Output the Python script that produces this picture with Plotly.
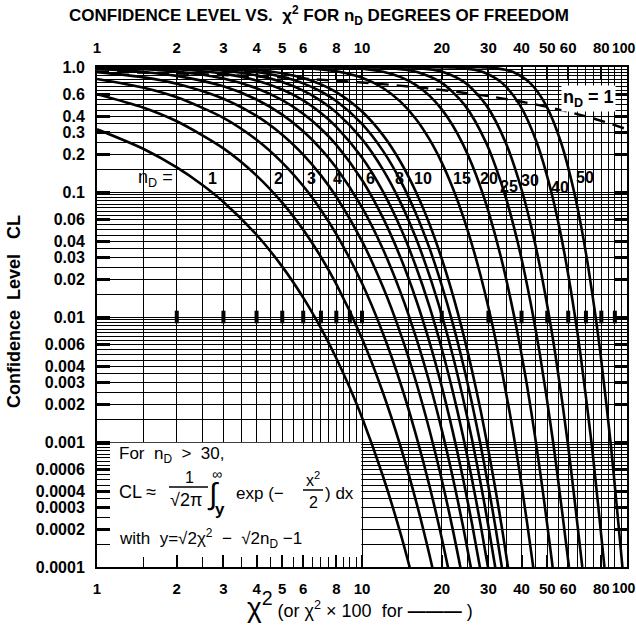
import math
import plotly.graph_objects as go

# ---------------- data ----------------
chi2_n1 = [1, 1.5, 2, 2.5, 3, 4, 5, 6, 7, 8, 9, 10, 12, 14, 16]
cl_n1 = [0.3173, 0.2207, 0.1573, 0.1138, 0.0833, 0.0455, 0.0253, 0.0143, 0.00815,
         0.00468, 0.0027, 0.00157, 0.000532, 0.000183, 0.0000633]

chi2_even = [1, 1.5, 2, 3, 4, 5, 6, 7, 8, 10, 12, 14, 16, 18, 20, 22, 24, 26, 28, 30, 32, 34, 36]
cl_n2 = [0.6065, 0.4724, 0.3679, 0.2231, 0.1353, 0.0821, 0.0498, 0.0302, 0.0183, 0.00674,
         0.00248, 0.000912, 0.000335, 0.000123, 0.0000454]
cl_n3 = [0.8013, 0.6823, 0.5724, 0.3916, 0.2615, 0.1718, 0.1116, 0.0719, 0.0460, 0.0186,
         0.00738, 0.00291, 0.00113, 0.00044, 0.00017, 0.0000652]
cl_n4 = [0.9098, 0.8266, 0.7358, 0.5578, 0.4060, 0.2873, 0.1991, 0.1359, 0.0916, 0.0404,
         0.01735, 0.0073, 0.00302, 0.00123, 0.000499, 0.0002, 0.0000798]
cl_n5 = [0.9626, 0.9131, 0.8491, 0.7000, 0.5494, 0.4159, 0.3062, 0.2206, 0.1562, 0.0752,
         0.0348, 0.0156, 0.00684, 0.00295, 0.00125, 0.000523, 0.000217, 0.000089]
cl_n6 = [0.9856, 0.9595, 0.9197, 0.8088, 0.6767, 0.5438, 0.4232, 0.3208, 0.2381, 0.1247,
         0.0620, 0.0296, 0.01375, 0.00623, 0.00277, 0.00121, 0.000522, 0.000223, 0.000094]
cl_n7 = [0.9949, 0.9823, 0.9598, 0.8850, 0.7797, 0.6600, 0.5398, 0.4287, 0.3324, 0.1886,
         0.1006, 0.0512, 0.0251, 0.0120, 0.00557, 0.00254, 0.00114, 0.000503, 0.00022, 0.000095]
cl_n8 = [0.9982, 0.9927, 0.9810, 0.9343, 0.8571, 0.7576, 0.6472, 0.5366, 0.4335, 0.2650,
         0.1512, 0.0818, 0.0424, 0.0212, 0.01034, 0.00492, 0.00229, 0.00105, 0.000475,
         0.000211, 0.000093]
cl_n9 = [0.9995, 0.9971, 0.9914, 0.9643, 0.9113, 0.8344, 0.7400, 0.6368, 0.5338, 0.3505,
         0.2133, 0.1223, 0.0668, 0.0352, 0.0179, 0.00888, 0.00430, 0.00204, 0.000954,
         0.000439, 0.000199, 0.000089]
cl_n10 = [0.9998, 0.9990, 0.9963, 0.9814, 0.9473, 0.8912, 0.8153, 0.7254, 0.6288, 0.4405,
          0.2851, 0.1730, 0.0996, 0.0550, 0.02925, 0.0151, 0.0076, 0.00374, 0.00181,
          0.000857, 0.000400, 0.000185, 0.0000842]

chi2_n15 = [1, 3, 4, 5, 6, 7, 8, 10, 12, 14, 16, 18, 20, 22, 24, 26, 28, 30, 32, 36, 40, 44, 46]
cl_n15 = [1.0, 0.9998, 0.9975, 0.9924, 0.9797, 0.9577, 0.9239, 0.8197, 0.6791, 0.5256,
          0.3820, 0.2622, 0.1719, 0.1078, 0.0651, 0.0380, 0.02157, 0.01192, 0.00644,
          0.001768, 0.000454, 0.00011, 0.000053]

chi2_n20 = [1, 4, 6, 8, 10, 12, 14, 16, 18, 20, 22, 24, 26, 28, 30, 34, 38, 40, 42, 45, 48, 52, 55]
cl_n20 = [1.0, 0.99995, 0.9989, 0.99187, 0.96817, 0.91608, 0.83050, 0.71662, 0.58741,
          0.45793, 0.34051, 0.24239, 0.16581, 0.10940, 0.06985, 0.02612, 0.00886, 0.00500,
          0.00279, 0.00110, 0.00042, 0.000114, 0.000042]

cl_quant = [1.0, 0.99996, 0.999, 0.995, 0.99, 0.975, 0.95, 0.90, 0.75, 0.50, 0.25, 0.10,
            0.05, 0.025, 0.01, 0.005, 0.001, 0.0001]
chi2_n25 = [1, 6, 8.65, 10.52, 11.52, 13.12, 14.61, 16.47, 19.94, 24.34, 29.34, 34.38,
            37.65, 40.65, 44.31, 46.93, 52.62, 60.4]
chi2_n30 = [1, 8, 11.51, 13.79, 14.95, 16.79, 18.49, 20.60, 24.48, 29.34, 34.80, 40.26,
            43.77, 46.98, 50.89, 53.67, 59.70, 67.8]
chi2_n40 = [1, 12, 17.92, 20.71, 22.16, 24.43, 26.51, 29.05, 33.66, 39.34, 45.62, 51.81,
            55.76, 59.34, 63.69, 66.77, 73.40, 82.2]
chi2_n50 = [1, 17, 24.67, 27.99, 29.71, 32.36, 34.76, 37.69, 42.94, 49.33, 56.33, 63.17,
            67.50, 71.42, 76.15, 79.49, 86.66, 96.1]

# dashed curve: n_D = 1, abscissa is chi^2 x 100
chi2x100_n1 = [1, 2, 3, 5, 7, 10, 15, 20, 30, 40, 50, 60, 70, 80, 100]
cl_n1_dashed = [0.9203, 0.8875, 0.8625, 0.8231, 0.7913, 0.7518, 0.6985, 0.6547, 0.5839,
                0.5271, 0.4795, 0.4386, 0.4028, 0.3711, 0.3173]

x_ticks = [1, 2, 3, 4, 5, 6, 8, 10, 20, 30, 40, 50, 60, 80, 100]
x_ticktext = ["1", "2", "3", "4", "5", "6", "8", "10", "20", "30", "40", "50", "60", "80", "100"]
y_ticks = [1.0, 0.6, 0.4, 0.3, 0.2, 0.1, 0.06, 0.04, 0.03, 0.02, 0.01, 0.006, 0.004, 0.003,
           0.002, 0.001, 0.0006, 0.0004, 0.0003, 0.0002, 0.0001]
y_ticktext = ["1.0", "0.6", "0.4", "0.3", "0.2", "0.1", "0.06", "0.04", "0.03", "0.02",
              "0.01", "0.006", "0.004", "0.003", "0.002", "0.001", "0.0006", "0.0004",
              "0.0003", "0.0002", "0.0001"]
mark_x = [2, 3, 4, 5, 6, 7, 8, 9, 10, 20, 30, 40, 50, 60, 70, 80, 90]

curves = [
    ("1", chi2_n1, cl_n1), ("2", chi2_even, cl_n2), ("3", chi2_even, cl_n3),
    ("4", chi2_even, cl_n4), ("5", chi2_even, cl_n5), ("6", chi2_even, cl_n6),
    ("7", chi2_even, cl_n7), ("8", chi2_even, cl_n8), ("9", chi2_even, cl_n9),
    ("10", chi2_even, cl_n10), ("15", chi2_n15, cl_n15), ("20", chi2_n20, cl_n20),
    ("25", chi2_n25, cl_quant), ("30", chi2_n30, cl_quant), ("40", chi2_n40, cl_quant),
    ("50", chi2_n50, cl_quant),
]

# ---------------- figure ----------------
W, H = 636, 626
L, R, T, B = 97, 9, 67, 59
PW, PH = W - L - R, H - T - B


def pxx(px):
    return (px - L) / PW


def pxy(py):
    return (H - B - py) / PH


SANS = "Liberation Sans, Arial, sans-serif"

fig = go.Figure()

# white formula box (x from 1 to 10, CL from 0.0001 to 0.001), drawn above the grid
bx0, bx1 = x_ticks[0] * 1.006, x_ticks[7] * 0.994
by0, by1 = y_ticks[-1] * 1.012, y_ticks[15] * 0.985
fig.add_trace(go.Scatter(x=[bx0, bx1, bx1, bx0, bx0], y=[by0, by0, by1, by1, by0],
                         mode="lines", fill="toself", fillcolor="white",
                         line=dict(width=0, color="white"), showlegend=False, hoverinfo="skip"))

for name, xs, ys in curves:
    fig.add_trace(go.Scatter(x=xs[:len(ys)], y=ys, mode="lines", name="n=" + name,
                             line=dict(color="black", width=2.6, shape="spline", smoothing=0.8),
                             showlegend=False, hoverinfo="skip"))
fig.add_trace(go.Scatter(x=chi2x100_n1, y=cl_n1_dashed, mode="lines",
                         line=dict(color="black", width=2.4, dash="12px,8px", shape="spline"),
                         showlegend=False, hoverinfo="skip"))
fig.add_trace(go.Scatter(x=mark_x, y=[0.01] * len(mark_x), mode="markers",
                         marker=dict(symbol="line-ns", size=9, line=dict(color="black", width=4)),
                         showlegend=False, hoverinfo="skip"))
# helper trace for the top axis
fig.add_trace(go.Scatter(x=[1, 100], y=[0.5, 0.5], xaxis="x2", mode="lines",
                         line=dict(width=0), showlegend=False, hoverinfo="skip"))

minor_x = [1.5, 2.5, 3.5, 4.5, 5.5, 6.5, 7, 7.5, 8.5, 9, 9.5,
           15, 25, 35, 45, 55, 65, 70, 75, 85, 90, 95]
mant = [9.5, 9.0, 8.5, 8.0, 7.5, 7.0, 6.5, 5.5, 5.0, 4.5, 3.5, 2.5, 1.5]
minor_y = [m * 10 ** k for k in range(-5, 0) for m in mant if 1e-4 < m * 10 ** k < 1.0]

xtickfont = dict(family=SANS, size=15, color="black", weight="bold")
ytickfont = dict(family=SANS, size=16, color="black", weight="bold")
# the last label ("100") is placed by hand so it is not clipped at the page edge
x_ticktext_axis = x_ticktext[:-1] + [""]

fig.update_layout(
    width=W, height=H, margin=dict(l=L, r=R, t=T, b=B, autoexpand=False),
    paper_bgcolor="white", plot_bgcolor="white",
    xaxis=dict(type="log", range=[0, 2], tickmode="array", tickvals=x_ticks,
               ticktext=x_ticktext_axis, tickangle=0, automargin=False,
               ticklabeloverflow="allow",
               ticks="inside", ticklen=12, tickwidth=1.5, tickcolor="black",
               showline=True, linecolor="black", linewidth=2, mirror="allticks",
               showgrid=True, gridcolor="black", gridwidth=1.3,
               tickfont=xtickfont, ticklabelstandoff=7,
               minor=dict(tickmode="array", tickvals=minor_x, ticks="inside", ticklen=10,
                          tickcolor="black", tickwidth=1, showgrid=True, gridcolor="black",
                          gridwidth=1)),
    xaxis2=dict(type="log", range=[0, 2], overlaying="x", side="top", anchor="y",
                tickmode="array", tickvals=x_ticks, ticktext=x_ticktext_axis, ticks="",
                tickangle=0, automargin=False, ticklabeloverflow="allow",
                showgrid=False, showline=False, tickfont=xtickfont, ticklabelstandoff=10),
    yaxis=dict(type="log", range=[-4, 0], tickmode="array", tickvals=y_ticks, ticktext=y_ticktext,
               automargin=False, ticklabeloverflow="allow",
               ticks="inside", ticklen=13, tickwidth=2.5, tickcolor="black",
               showline=True, linecolor="black", linewidth=2, mirror="allticks",
               showgrid=True, gridcolor="black", gridwidth=1.2,
               tickfont=ytickfont, ticklabelstandoff=7,
               minor=dict(tickmode="array", tickvals=minor_y, ticks="inside", ticklen=9,
                          tickcolor="black", tickwidth=1, showgrid=True, gridcolor="black",
                          gridwidth=0.9)),
)

shapes = []
ann = []


def A(text, px, py, size=16, family=SANS, xanchor="center", bg=None, color="black"):
    d = dict(text=text, xref="paper", yref="paper", x=pxx(px), y=pxy(py), showarrow=False,
             xanchor=xanchor, yanchor="middle", font=dict(family=family, size=size, color=color))
    if bg:
        d["bgcolor"] = bg
    ann.append(d)


# "100" labels at the right end of both x axes
A("<b>" + x_ticktext[-1] + "</b>", 638, 588, size=14, xanchor="right")
A("<b>" + x_ticktext[-1] + "</b>", 638, 48, size=14, xanchor="right")

# title
A("<b>CONFIDENCE LEVEL VS.  χ<sup>2</sup> FOR n<sub>D</sub> DEGREES OF FREEDOM</b>", 319, 16, size=17)
# y title
ann.append(dict(text="<b>Confidence  Level   CL</b>", xref="paper", yref="paper",
                x=pxx(14), y=pxy(312), showarrow=False, textangle=-90,
                xanchor="center", yanchor="middle",
                font=dict(family=SANS, size=18, color="black")))
# x title
A("<span style='font-size:28px'>χ<sup>2</sup></span> (or χ<sup>2</sup> × 100  for <b>———</b> )",
  360, 605, size=18)

# curve labels
A("n<sub>D</sub> =", 155, 178, size=18)
for txt, px, py in [("1", 212, 178), ("2", 278, 178), ("3", 311, 178), ("4", 337, 178),
                    ("6", 370, 178), ("8", 399, 178), ("10", 423, 178), ("15", 462, 178),
                    ("20", 489, 178), ("25", 509, 186), ("30", 530, 180), ("40", 560, 187),
                    ("50", 585, 177)]:
    A("<b>" + txt + "</b>", px, py, size=16)
A("<b>n<sub>D</sub> = 1</b>", 588, 99, size=18, bg="white")

# formula box
A("For  n<sub>D</sub>  >  30,", 117, 455, size=17, xanchor="left")
A("CL ≈", 117, 492, size=18, xanchor="left")
A("1", 189, 477, size=16)
shapes.append(dict(type="line", xref="paper", yref="paper", x0=pxx(169), x1=pxx(208),
                   y0=pxy(487), y1=pxy(487), line=dict(color="black", width=1.5)))
A("√2π", 186, 500, size=18)
A("∫", 213, 494, size=30)
A("∞", 217, 474, size=14)
A("<b>y</b>", 220, 509, size=17)
A("exp (−", 234, 493, size=17, xanchor="left")
A("x<sup>2</sup>", 313, 479, size=16)
shapes.append(dict(type="line", xref="paper", yref="paper", x0=pxx(303), x1=pxx(323),
                   y0=pxy(490), y1=pxy(490), line=dict(color="black", width=1.5)))
A("2", 313, 502, size=16)
A(") dx", 323, 493, size=17, xanchor="left")
A("with  y=√2χ<sup>2</sup>  −  √2n<sub>D</sub> −1", 117, 538, size=17, xanchor="left")

fig.update_layout(annotations=ann, shapes=shapes)
fig.write_html("out.html", config={"displayModeBar": False},
               post_script="document.body.style.margin='0px';document.body.style.padding='0px';")
